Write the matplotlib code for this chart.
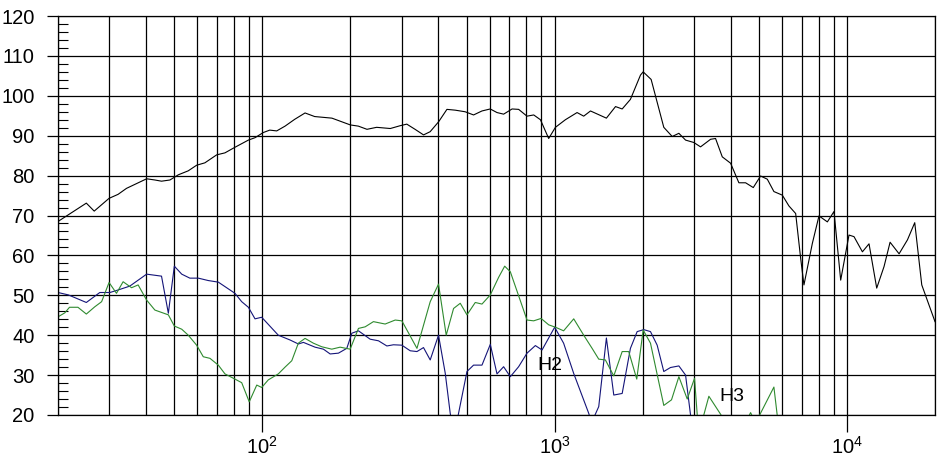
import matplotlib
matplotlib.use("Agg")
import matplotlib.pyplot as plt
from matplotlib.ticker import FixedLocator, LogLocator, NullFormatter
import numpy as np

plt.rcParams['font.family'] = ['Liberation Sans', 'DejaVu Sans']
plt.rcParams['mathtext.fontset'] = 'custom'
plt.rcParams['mathtext.rm'] = 'Liberation Sans'

# fundamental response (black)
spl_freq = [20, 25, 26.6, 29.9, 32.1, 34.3, 40.2, 42.9, 45.2, 48.3, 51.6, 55.8, 59.6,
            63.6, 69.8, 74.5, 80.6, 89.6, 94.4, 100.8, 106, 112, 119.6, 129, 140,
            151, 173, 200, 213, 228, 246, 274, 296, 312, 333, 356, 375, 401, 428,
            457, 494, 528, 564, 602, 635, 669, 715, 753, 804, 848, 894, 954, 1006,
            1088, 1193, 1257, 1326, 1503, 1615, 1702, 1816, 1966, 2008, 2138, 2362,
            2524, 2660, 2804, 2992, 3155, 3414, 3551, 3744, 3998, 4267, 4499, 4780,
            5062, 5338, 5623, 6008, 6328, 6674, 6941, 7124, 7611, 8020, 8567, 9027,
            9515, 10158, 10567, 11290, 11895, 12637, 13387, 14040, 15072, 16100,
            17050, 18020, 20000]
spl_db = [68.5, 73.1, 71.1, 74.3, 75.3, 76.8, 79.2, 78.9, 78.6, 78.9, 80.2, 81.2, 82.6,
          83.2, 85.2, 85.7, 87.1, 88.9, 89.5, 90.8, 91.4, 91.2, 92.4, 94.1, 95.7,
          94.8, 94.4, 92.7, 92.4, 91.6, 92.1, 91.8, 92.5, 92.9, 91.6, 90.2, 91.0, 93.5, 96.6,
          96.4, 96.0, 95.2, 96.2, 96.7, 95.8, 95.4, 96.7, 96.6, 94.9, 95.2, 94.0, 89.3, 92.1,
          94.0, 95.8, 94.9, 96.2, 94.4, 97.3, 96.7, 99.1, 105.2, 106.0, 104.1, 92.1,
          89.8, 90.6, 88.9, 88.3, 87.2, 89.1, 89.3, 84.7, 83.1, 78.2, 78.2, 77.0,
          79.9, 79.1, 76.0, 75.1, 72.4, 70.5, 59.3, 52.6, 63.0, 69.9, 68.4, 71.0,
          53.8, 65.1, 64.7, 60.9, 62.9, 51.8, 57.2, 63.3, 60.4, 63.9,
          68.2, 52.6, 43.4]

# second harmonic (blue)
h2_freq = [20, 21.7, 25, 27.8, 30.1, 31.7, 35.2, 40.2, 45.2, 47.7, 50.0, 53.0, 56.5,
           60.4, 65.3, 70.7, 80.6, 85.0, 89.6, 94.4, 99.5, 113.4, 124.4, 132.8, 138.2,
           151.5, 161.8, 170.6, 182.1, 194.5, 202.4, 213.2, 233.8, 249.6, 266.7, 280.9,
           300.1, 320.5, 338, 355.9, 375.2, 400.6, 422.3, 439.3, 453.4, 469, 501.2,
           527.9, 564.1, 602.3, 634.9, 668.9, 705.2, 752.8, 804.3, 858.9, 905.4, 1000,
           1073, 1162, 1308, 1336, 1415, 1503, 1593, 1702, 1816, 1915, 2017, 2127,
           2242, 2362, 2490, 2660, 2804, 2916, 3082]
h2_db = [50.7, 50.1, 48.2, 50.7, 50.7, 51.2, 52.3, 55.3, 54.8, 45.5, 57.3, 55.3, 54.3,
         54.3, 53.7, 53.3, 50.5, 48.4, 47.0, 44.1, 44.5, 40.0, 38.8, 37.8, 38.2,
         37.0, 36.5, 35.3, 35.5, 36.7, 40.5, 41.1, 39.0, 38.6, 37.3, 37.6,
         37.5, 36.1, 35.9, 36.9, 33.8, 40.0, 30.5, 20.4, 15.0, 20.4, 30.9,
         32.5, 32.5, 37.7, 30.3, 32.1, 29.6, 32.1, 35.5, 37.4, 36.3, 42.0,
         38.0, 30.4, 20.4, 18.0, 22.1, 39.3, 25.0, 25.4, 36.7, 40.9, 41.4, 40.9,
         37.5, 30.9, 31.9, 32.3, 30.0, 20.0, 10.0]

# third harmonic (green)
h3_freq = [20, 21.1, 21.9, 23.4, 25, 26.7, 28.2, 29.9, 31.7, 33.4, 35.7, 37.6, 40.2,
           42.9, 47.7, 50.0, 53.0, 55.8, 59.6, 62.8, 66.2, 70.7, 74.5, 80.6, 85.0,
           90.2, 95.7, 99.5, 104.8, 113.4, 119.6, 126.1, 132.8, 140, 149.5, 159.7,
           172.8, 184.5, 199.7, 213.2, 224.8, 239.9, 263.1, 284.8, 300.1, 320.5, 338,
           375.2, 400.6, 425.6, 451.0, 475.4, 501.2, 535, 564.1, 602.3, 643.1, 674.5,
           705.2, 804.3, 847.7, 898.5, 954, 1006, 1073, 1162, 1257, 1343, 1415, 1491,
           1593, 1702, 1792, 1909, 2008, 2127, 2362, 2510, 2660, 2841, 3009, 3074,
           3155, 3369, 3694, 3998, 4499, 4679, 4867, 5623, 5813, 6378]
h3_db = [44.6, 45.6, 47.0, 47.0, 45.3, 47.1, 48.4, 53.2, 50.5, 53.4, 51.9, 52.6, 48.8,
         46.3, 45.1, 42.3, 41.5, 40.0, 37.5, 34.6, 34.2, 32.5, 30.3, 29.0, 28.1,
         23.3, 27.5, 26.9, 28.8, 30.3, 32.0, 33.6, 38.0, 39.2, 38.0, 37.1,
         36.5, 37.0, 36.5, 41.7, 42.1, 43.4, 42.8, 43.8, 43.6, 39.8, 36.7,
         48.4, 52.8, 40.0, 46.7, 48.0, 45.1, 48.2, 47.8, 50.1, 54.5, 57.3,
         55.9, 43.8, 43.6, 44.2, 42.6, 42.0, 41.1, 44.1, 40.0, 36.7, 34.0, 33.8,
         29.8, 35.9, 35.9, 29.0, 41.3, 38.0, 22.4, 23.8, 29.6, 24.0, 29.2, 20.0,
         17.0, 24.7, 20.2, 16.0, 18.0, 20.6, 18.0, 27.0, 18.0, 12.0]

fig = plt.figure(figsize=(9.52, 4.58), dpi=100)
ax = fig.add_axes([58 / 952, 43 / 458, 877 / 952, 399 / 458])

ax.plot(spl_freq, spl_db, color='black', lw=0.8)
ax.plot(h2_freq, h2_db, color='#141478', lw=0.8)
ax.plot(h3_freq, h3_db, color='#2f8a2f', lw=0.8)

ax.set_xscale('log')
ax.set_xlim(20, 20000)
ax.set_ylim(20, 120)

ax.xaxis.set_major_locator(FixedLocator([100, 1000, 10000]))
ax.xaxis.set_minor_locator(LogLocator(base=10, subs=np.arange(2, 10), numticks=20))
ax.xaxis.set_minor_formatter(NullFormatter())
ax.set_yticks(np.arange(20, 121, 10))
ax.set_yticks(np.arange(20, 121, 2), minor=True)

ax.grid(True, which='major', color='black', lw=0.9)
ax.grid(True, which='minor', axis='x', color='black', lw=0.9)

ax.tick_params(axis='y', which='major', direction='out', length=8, width=0.9,
               labelsize=14.5, pad=9)
ax.tick_params(axis='y', which='minor', direction='in', length=7, width=0.8)
ax.tick_params(axis='x', which='major', direction='out', length=12, width=0.9,
               labelsize=14.5, pad=3)
ax.tick_params(axis='x', which='minor', length=0)

for s in ax.spines.values():
    s.set_color('black')
    s.set_linewidth(0.9)

ax.text(964, 32.3, 'H2', fontsize=14, ha='center', va='center')
ax.text(4051, 24.6, 'H3', fontsize=14, ha='center', va='center')

fig.savefig('out.png', dpi=100)
